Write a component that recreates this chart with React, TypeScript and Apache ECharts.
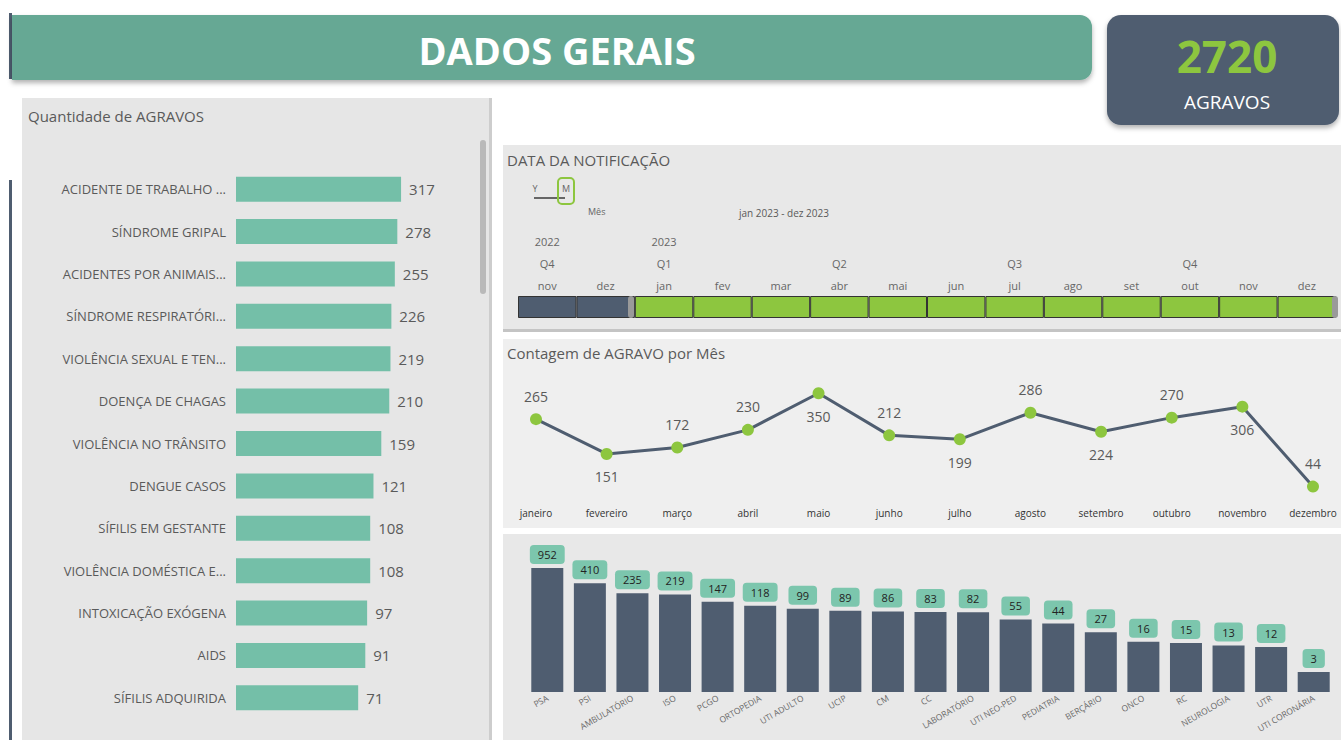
import React, { useEffect, useRef } from "react";
import * as echarts from "echarts";

const agravoNames = [
  "ACIDENTE DE TRABALHO ...",
  "SÍNDROME GRIPAL",
  "ACIDENTES POR ANIMAIS...",
  "SÍNDROME RESPIRATÓRI...",
  "VIOLÊNCIA SEXUAL E TEN...",
  "DOENÇA DE CHAGAS",
  "VIOLÊNCIA NO TRÂNSITO",
  "DENGUE CASOS",
  "SÍFILIS EM GESTANTE",
  "VIOLÊNCIA DOMÉSTICA E...",
  "INTOXICAÇÃO EXÓGENA",
  "AIDS",
  "SÍFILIS ADQUIRIDA",
];
const agravoValues = [317, 278, 255, 226, 219, 210, 159, 121, 108, 108, 97, 91, 71];

const sliderMonths = ["nov", "dez", "jan", "fev", "mar", "abr", "mai", "jun", "jul", "ago", "set", "out", "nov", "dez"];
const sliderQuarters = ["Q4", "", "Q1", "", "", "Q2", "", "", "Q3", "", "", "Q4", "", ""];
const sliderYears = ["2022", "", "2023", "", "", "", "", "", "", "", "", "", "", ""];
const sliderSelected = [false, false, true, true, true, true, true, true, true, true, true, true, true, true];

const monthNames = ["janeiro", "fevereiro", "março", "abril", "maio", "junho", "julho", "agosto", "setembro", "outubro", "novembro", "dezembro"];
const monthValues = [265, 151, 172, 230, 350, 212, 199, 286, 224, 270, 306, 44];
const monthLabelSide = ["top", "bottom", "top", "top", "bottom", "top", "bottom", "top", "bottom", "top", "bottom", "top"];

const sectorNames = [
  "PSA", "PSI", "AMBULATÓRIO", "ISO", "PCGO", "ORTOPEDIA", "UTI ADULTO", "UCIP", "CM", "CC",
  "LABORATÓRIO", "UTI NEO-PED", "PEDIATRIA", "BERÇÁRIO", "ONCO", "RC", "NEUROLOGIA", "UTR", "UTI CORONÁRIA",
];
const sectorValues = [952, 410, 235, 219, 147, 118, 99, 89, 86, 83, 82, 55, 44, 27, 16, 15, 13, 12, 3];

const FONT = "'Open Sans', 'DejaVu Sans', sans-serif";
const TEAL = "#66a894";
const SLATE = "#4f5d70";
const GREEN = "#8dc63f";
const BAR_TEAL = "#74bfa8";
const GREY_TEXT = "#5a5a5a";

export default function App() {
  const ref = useRef<HTMLDivElement>(null);

  useEffect(() => {
    if (!ref.current) return;
    const chart = echarts.init(ref.current, undefined, { renderer: "svg" });

    const txt = (x: number, y: number, text: string, size: number, color: string, extra: any = {}) => ({
      type: "text",
      x,
      y,
      z: 5,
      style: {
        text,
        fill: color,
        font: `${extra.weight || "normal"} ${size}px ${FONT}`,
        textAlign: extra.align || "left",
        textVerticalAlign: "middle",
      },
    });

    const option: any = {
      animation: false,
      backgroundColor: "#ffffff",
      textStyle: { fontFamily: FONT },
      graphic: [
        // left dark strips
        { type: "rect", z: -10, shape: { x: 9, y: 13, width: 3, height: 66 }, style: { fill: SLATE } },
        { type: "rect", z: -10, shape: { x: 9, y: 180, width: 3, height: 560 }, style: { fill: SLATE } },
        // header
        {
          type: "rect", z: -5,
          shape: { x: 12, y: 15, width: 1080, height: 65, r: [0, 12, 12, 0] },
          style: { fill: TEAL, shadowBlur: 5, shadowOffsetY: 3, shadowColor: "rgba(0,0,0,0.3)" },
        },
        txt(557, 50, "DADOS GERAIS", 38, "#ffffff", { weight: "bold", align: "center" }),
        // KPI card
        {
          type: "rect", z: -5,
          shape: { x: 1107, y: 15, width: 232, height: 110, r: 14 },
          style: { fill: SLATE, shadowBlur: 5, shadowOffsetY: 3, shadowColor: "rgba(0,0,0,0.3)" },
        },
        txt(1227, 56, "2720", 44, GREEN, { weight: "bold", align: "center" }),
        txt(1227, 102, "AGRAVOS", 19, "#ffffff", { align: "center" }),
        // left panel
        { type: "rect", z: -10, shape: { x: 22, y: 98, width: 470, height: 642 }, style: { fill: "#e6e6e6" } },
        { type: "rect", z: -9, shape: { x: 489, y: 98, width: 3, height: 642 }, style: { fill: "#cdcdcd" } },
        { type: "rect", z: -9, shape: { x: 480, y: 140, width: 6, height: 154, r: 3 }, style: { fill: "#b9b9b9" } },
        txt(28, 116, "Quantidade de AGRAVOS", 15, GREY_TEXT),
        // slicer panel
        { type: "rect", z: -10, shape: { x: 503, y: 145, width: 838, height: 186 }, style: { fill: "#e8e8e8" } },
        { type: "rect", z: -9, shape: { x: 503, y: 329, width: 838, height: 3 }, style: { fill: "#c4c4c4" } },
        txt(507, 160, "DATA DA NOTIFICAÇÃO", 15, GREY_TEXT),
        txt(535, 188, "Y", 9, "#666", { align: "center" }),
        txt(566, 188, "M", 9, "#666", { align: "center" }),
        { type: "line", z: 5, shape: { x1: 534, y1: 198, x2: 565, y2: 198 }, style: { stroke: "#666", lineWidth: 2 } },
        { type: "rect", z: 5, shape: { x: 558, y: 178, width: 16, height: 26, r: 4 }, style: { fill: "none", stroke: GREEN, lineWidth: 2 } },
        txt(588, 211, "Mês", 9, "#666"),
        txt(739, 213, "jan 2023 - dez 2023", 10, GREY_TEXT),
        { type: "rect", z: 10, shape: { x: 628, y: 296, width: 6, height: 22, r: 3 }, style: { fill: "#9a9a9a" } },
        { type: "rect", z: 10, shape: { x: 1332, y: 296, width: 6, height: 22, r: 3 }, style: { fill: "#9a9a9a" } },
        // line panel
        { type: "rect", z: -10, shape: { x: 503, y: 339, width: 838, height: 189 }, style: { fill: "#efefef" } },
        txt(507, 353, "Contagem de AGRAVO por Mês", 15, GREY_TEXT),
        // bottom panel
        { type: "rect", z: -10, shape: { x: 503, y: 534, width: 838, height: 206 }, style: { fill: "#e8e8e8" } },
      ],
      grid: [
        { left: 236, top: 168, width: 198, height: 551, outerBoundsMode: "none" },
        { left: 518, top: 296, width: 818, height: 22, outerBoundsMode: "none" },
        { left: 536, top: 378, width: 777, height: 122, outerBoundsMode: "none" },
        { left: 526, top: 567, width: 809, height: 125, outerBoundsMode: "none" },
      ],
      xAxis: [
        { gridIndex: 0, type: "log", min: 1, max: 1000, show: false },
        {
          gridIndex: 1, type: "category", data: sliderMonths, position: "top",
          axisLine: { show: false }, axisTick: { show: false },
          axisLabel: { interval: 0, margin: 5, fontSize: 11, color: "#666", fontFamily: FONT },
        },
        {
          gridIndex: 1, type: "category", data: sliderQuarters, position: "top", offset: 22,
          axisLine: { show: false }, axisTick: { show: false },
          axisLabel: { interval: 0, margin: 5, fontSize: 11, color: "#666", fontFamily: FONT },
        },
        {
          gridIndex: 1, type: "category", data: sliderYears, position: "top", offset: 44,
          axisLine: { show: false }, axisTick: { show: false },
          axisLabel: { interval: 0, margin: 5, fontSize: 11, color: "#666", fontFamily: FONT },
        },
        {
          gridIndex: 2, type: "category", data: monthNames, boundaryGap: false,
          axisLine: { show: false }, axisTick: { show: false },
          axisLabel: { interval: 0, margin: 8, fontSize: 10, color: "#333", fontFamily: FONT },
        },
        {
          gridIndex: 3, type: "category", data: sectorNames,
          axisLine: { show: false }, axisTick: { show: false },
          axisLabel: { interval: 0, rotate: 30, margin: 5, fontSize: 8.5, color: "#666", fontFamily: FONT },
        },
      ],
      yAxis: [
        {
          gridIndex: 0, type: "category", data: agravoNames, inverse: true,
          axisLine: { show: false }, axisTick: { show: false },
          axisLabel: { margin: 10, fontSize: 13, color: GREY_TEXT, fontFamily: FONT },
        },
        { gridIndex: 1, type: "value", min: 0, max: 1, show: false },
        { gridIndex: 2, type: "value", min: 0, max: 400, show: false },
        { gridIndex: 3, type: "log", min: 1, max: 1000, show: false },
      ],
      series: [
        {
          type: "bar", xAxisIndex: 0, yAxisIndex: 0, data: agravoValues, barWidth: 25,
          itemStyle: { color: BAR_TEAL },
          label: { show: true, position: "right", distance: 8, fontSize: 15, color: GREY_TEXT, fontFamily: FONT },
        },
        {
          type: "bar", xAxisIndex: 1, yAxisIndex: 1, barWidth: "100%",
          data: sliderMonths.map((_, i) => ({
            value: 1,
            itemStyle: { color: sliderSelected[i] ? GREEN : SLATE },
          })),
          itemStyle: { borderColor: "#333", borderWidth: 1 },
          silent: true,
        },
        {
          type: "line", xAxisIndex: 4, yAxisIndex: 2,
          data: monthValues.map((v, i) => ({ value: v, label: { position: monthLabelSide[i] } })),
          lineStyle: { color: SLATE, width: 3 },
          symbol: "circle", symbolSize: 12,
          itemStyle: { color: GREEN },
          label: { show: true, distance: 10, fontSize: 14, color: GREY_TEXT, fontFamily: FONT },
        },
        {
          type: "bar", xAxisIndex: 5, yAxisIndex: 3, data: sectorValues, barWidth: 32,
          itemStyle: { color: SLATE },
          label: {
            show: true, position: "top", distance: 4, fontSize: 11, color: "#222", fontFamily: FONT,
            backgroundColor: "#7cc6ad", borderRadius: 4, padding: [4, 8],
          },
        },
      ],
    };

    chart.setOption(option);
    return () => chart.dispose();
  }, []);

  return (
    <div
      ref={ref}
      style={{ position: "fixed", left: 0, top: 0, width: 1341, height: 740 }}
    />
  );
}
